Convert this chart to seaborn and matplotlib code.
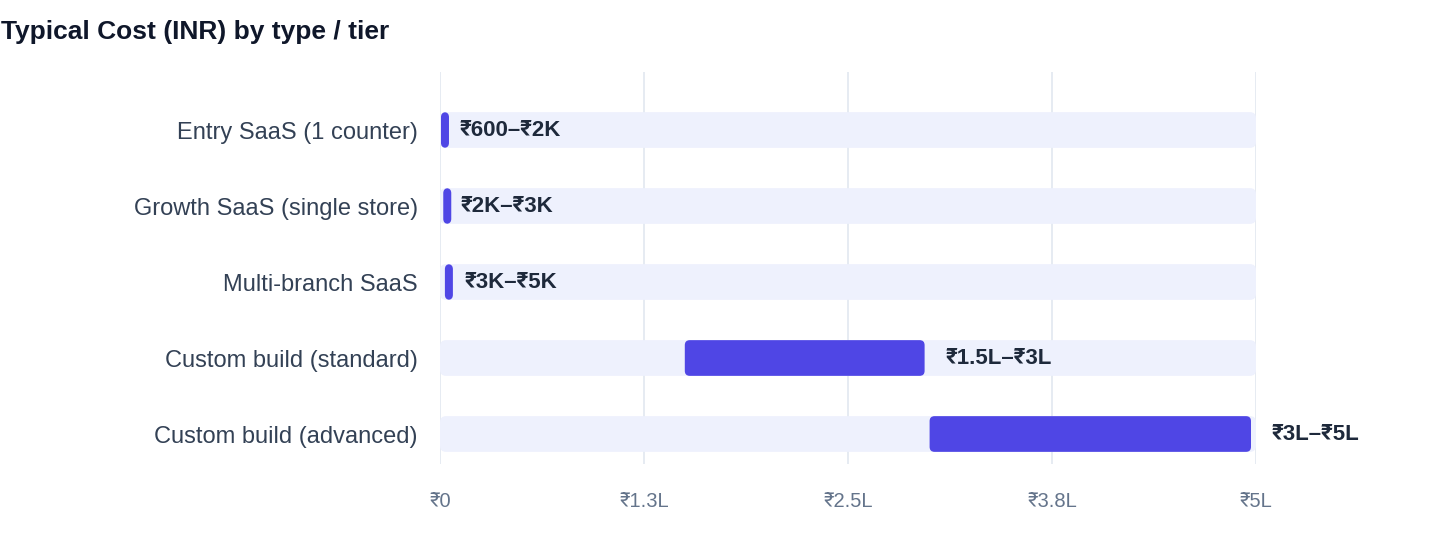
import pandas as pd
import numpy as np
import seaborn as sns
import matplotlib.pyplot as plt
from matplotlib.patches import FancyBboxPatch

# data
tiers = ["Entry SaaS (1 counter)", "Growth SaaS (single store)", "Multi-branch SaaS",
         "Custom build (standard)", "Custom build (advanced)"]
low_inr = [600, 2000, 3000, 150000, 300000]
high_inr = [2000, 3000, 5000, 300000, 500000]
range_labels = ["₹600–₹2K", "₹2K–₹3K", "₹3K–₹5K", "₹1.5L–₹3L", "₹3L–₹5L"]
track_max = 500000
tick_values = [0, 125000, 250000, 375000, 500000]
tick_labels = ["₹0", "₹1.3L", "₹2.5L", "₹3.8L", "₹5L"]

df = pd.DataFrame({"tier": tiers, "low": low_inr, "high": high_inr,
                   "label": range_labels, "track": [track_max] * len(tiers)})

sns.set_style("white")
plt.rcParams["font.family"] = ["Liberation Sans", "Roboto", "Noto Sans", "DejaVu Sans"]

fig = plt.figure(figsize=(14.4, 5.6), dpi=100)
ax = fig.add_axes([440 / 1440, 1 - 464 / 560, 816 / 1440, 392 / 560])

# background track and range bars
sns.barplot(data=df, y="tier", x="track", color="#EEF1FD", width=0.47,
            orient="h", ax=ax, saturation=1)
sns.barplot(data=df, y="tier", x="high", color="#4F46E5", width=0.47,
            orient="h", ax=ax, saturation=1)

ax.set_xlim(0, track_max)
ax.set_ylim(4 + 30 / 76, -58 / 76)

# pixel sizes in data units
px_x = track_max / 816
px_y = 1 / 76
min_w = 8 * px_x

n = len(tiers)
patches = list(ax.patches)
track_bars, range_bars = patches[:n], patches[n:]

def rounded(rect, x0, w, color, radius_px):
    y0 = rect.get_y()
    h = rect.get_height()
    rect.remove()
    box = FancyBboxPatch((x0, y0), w, h,
                         boxstyle=f"round,pad=0,rounding_size={radius_px * px_x}",
                         mutation_aspect=px_y / px_x,
                         facecolor=color, edgecolor="none", zorder=2)
    ax.add_patch(box)

for rect in track_bars:
    rounded(rect, 0, track_max, "#EEF1FD", 6)

for i, rect in enumerate(range_bars):
    lo, hi = df.loc[i, "low"], df.loc[i, "high"]
    w = max(hi - lo - 5 * px_x, min_w)
    rounded(rect, lo, w, "#4F46E5", 5)
    ax.text(hi + 16 * px_x, i, df.loc[i, "label"], va="center", ha="left",
            fontsize=16, fontweight="bold", color="#1E293B", zorder=3)

# grid and axes
ax.set_xticks(tick_values)
ax.set_xticklabels(tick_labels)
ax.grid(axis="x", color="#E2E8F0", linewidth=1.2, zorder=0)
ax.set_axisbelow(True)
for s in ax.spines.values():
    s.set_visible(False)
ax.tick_params(axis="x", length=0, pad=20, labelsize=14.5, labelcolor="#64748B")
ax.tick_params(axis="y", length=0, pad=16, labelsize=17, labelcolor="#334155")
ax.set_xlabel("")
ax.set_ylabel("")

fig.text(0.001, 1 - 32 / 560, "Typical Cost (INR) by type / tier", fontsize=19,
         fontweight="bold", color="#0F172A", ha="left", va="center")

fig.savefig("out.png", dpi=100)
